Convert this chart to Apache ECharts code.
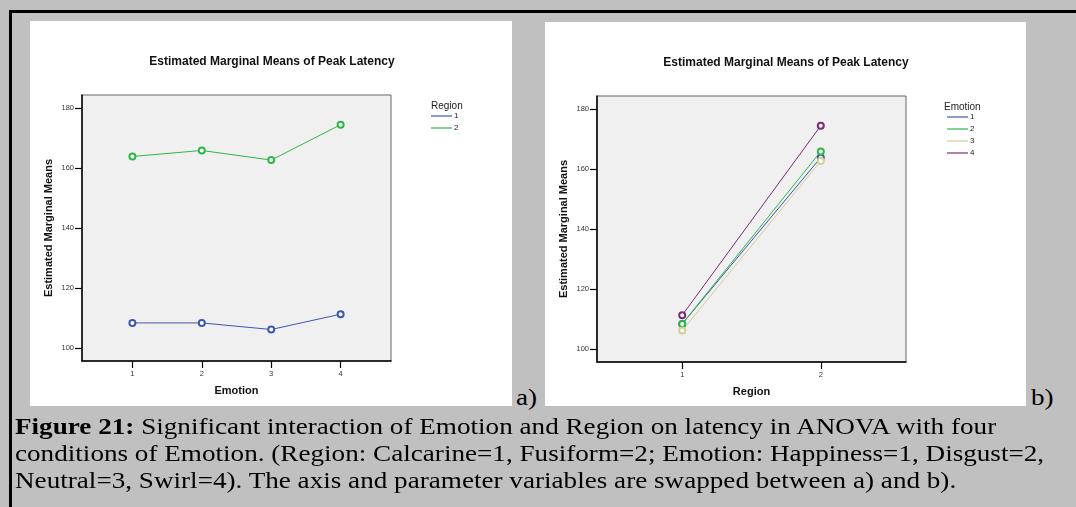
<!DOCTYPE html>
<html>
<head>
<meta charset="utf-8">
<script src="https://cdn.jsdelivr.net/npm/echarts@6/dist/echarts.min.js"></script>
<style>
  body { margin: 0; background: #c0c0c0; }
  #wrap { position: relative; width: 1076px; height: 507px; overflow: hidden; background: #c0c0c0; }
  .panel { position: absolute; background: #fff; }
  .bar { position: absolute; background: #000; }
  .tag { position: absolute; font-family: 'Liberation Serif', serif; font-size: 23px; line-height: 23px; color: #000; transform: scaleX(1.18); transform-origin: 0 0; }
  #chart { position: absolute; left: 0; top: 0; width: 1076px; height: 507px; }
  #caption { position: absolute; left: 15px; top: 413px; font-family: 'Liberation Serif', serif; font-size: 23px; line-height: 27px; color: #000; white-space: nowrap; transform: scaleX(1.18); transform-origin: 0 0; }
</style>
</head>
<body>
<div id="wrap">
  <div class="bar" style="left:9px;top:10px;width:3px;height:497px"></div>
  <div class="bar" style="left:9px;top:10px;width:1067px;height:3px"></div>
  <div class="panel" style="left:30px;top:21px;width:482px;height:385px"></div>
  <div class="panel" style="left:545px;top:22px;width:481px;height:384px"></div>
  <div class="tag" style="left:516px;top:386px">a)</div>
  <div class="tag" style="left:1031px;top:386px">b)</div>
  <div id="chart"></div>
  <div id="caption">
    <b>Figure 21:</b> Significant interaction of Emotion and Region on latency in ANOVA with four<br>
    conditions of Emotion. (Region: Calcarine=1, Fusiform=2; Emotion: Happiness=1, Disgust=2,<br>
    Neutral=3, Swirl=4). The axis and parameter variables are swapped between a) and b).
  </div>
</div>
<script>
// estimated marginal means of peak latency
const emotionLevels = [1, 2, 3, 4]
const regionLevels = [1, 2]
const region1Means = [108.4, 108.4, 106.2, 111.3]
const region2Means = [163.9, 165.9, 162.7, 174.5]
const yTicks = [100, 120, 140, 160, 180]

const regionColors = ['#3e58ac', '#2eb848']
const emotionColors = ['#3e58ac', '#2eb848', '#d3ce97', '#7c2a79']

const chart = echarts.init(document.getElementById('chart'))

const font = 'Liberation Sans'
const titleText = 'Estimated Marginal Means of Peak Latency'

function xAxisFor (gridIndex, min, max, ticks, name) {
  return {
    type: 'value',
    gridIndex: gridIndex,
    min: min,
    max: max,
    name: name,
    nameLocation: 'middle',
    nameGap: 24,
    nameTextStyle: { fontFamily: font, fontWeight: 'bold', fontSize: 11, color: '#111' },
    axisLine: { show: true, onZero: false, lineStyle: { color: '#000', width: 1.5 } },
    axisTick: { show: true, length: 7, customValues: ticks, lineStyle: { color: '#000', width: 1.2 } },
    axisLabel: { customValues: ticks, fontFamily: font, fontSize: 7.5, color: '#333', margin: 9 },
    splitLine: { show: false }
  }
}

function yAxisFor (gridIndex) {
  return {
    type: 'value',
    gridIndex: gridIndex,
    min: 95.7,
    max: 184.4,
    name: 'Estimated Marginal Means',
    nameLocation: 'middle',
    nameGap: 28,
    nameTextStyle: { fontFamily: font, fontWeight: 'bold', fontSize: 11, color: '#111' },
    axisLine: { show: true, onZero: false, lineStyle: { color: '#000', width: 1.5 } },
    axisTick: { show: true, length: 7, customValues: yTicks, lineStyle: { color: '#000', width: 1.2 } },
    axisLabel: { customValues: yTicks, fontFamily: font, fontSize: 7.5, color: '#333', margin: 8 },
    splitLine: { show: false }
  }
}

function lineSeries (name, xIdx, color, data) {
  return {
    type: 'line',
    name: name,
    xAxisIndex: xIdx,
    yAxisIndex: xIdx,
    data: data,
    symbol: 'emptyCircle',
    symbolSize: 6,
    color: color,
    lineStyle: { width: 1, color: color },
    itemStyle: { color: color, borderColor: color, borderWidth: 1 },
    emphasis: { disabled: true },
    animation: false
  }
}

// a) Emotion on the axis, one line per region
const seriesA = [region1Means, region2Means].map((means, r) =>
  lineSeries('R' + regionLevels[r], 0, regionColors[r], emotionLevels.map((e, i) => [e, means[i]])))

// b) Region on the axis, one line per emotion
const seriesB = emotionLevels.map((e, i) =>
  lineSeries('E' + e, 1, emotionColors[i], [[regionLevels[0], region1Means[i]], [regionLevels[1], region2Means[i]]]))

const legendBase = {
  orient: 'vertical',
  icon: 'rect',
  itemWidth: 21,
  itemHeight: 1.2,
  itemGap: 4,
  padding: 0,
  selectedMode: false,
  itemStyle: { borderWidth: 0 },
  formatter: name => name.slice(1),
  textStyle: { fontFamily: font, fontSize: 8, color: '#222', padding: [0, 0, 0, -3] }
}

const titleStyle = { fontFamily: font, fontSize: 12, fontWeight: 'bold', color: '#111' }
const keyStyle = { fontFamily: font, fontSize: 10, fontWeight: 'normal', color: '#222' }

chart.setOption({
  animation: false,
  title: [
    { text: titleText, left: 272, top: 56, padding: 0, textAlign: 'center', textStyle: titleStyle },
    { text: titleText, left: 786, top: 57, padding: 0, textAlign: 'center', textStyle: titleStyle },
    { text: 'Region', left: 431, top: 101, padding: 0, textStyle: keyStyle },
    { text: 'Emotion', left: 944, top: 102, padding: 0, textStyle: keyStyle }
  ],
  legend: [
    Object.assign({}, legendBase, { left: 431, top: 112, data: seriesA.map(s => s.name) }),
    Object.assign({}, legendBase, { left: 947, top: 113, data: seriesB.map(s => s.name) })
  ],
  grid: [
    { left: 82, top: 95, width: 309, height: 266, show: true, backgroundColor: '#f0f0f0', borderColor: '#666', borderWidth: 1 },
    { left: 597, top: 96, width: 309, height: 266, show: true, backgroundColor: '#f0f0f0', borderColor: '#666', borderWidth: 1 }
  ],
  xAxis: [
    xAxisFor(0, 0.274, 4.726, emotionLevels, 'Emotion'),
    xAxisFor(1, 0.385, 2.615, regionLevels, 'Region')
  ],
  yAxis: [yAxisFor(0), yAxisFor(1)],
  series: seriesA.concat(seriesB)
})
</script>
</body>
</html>
